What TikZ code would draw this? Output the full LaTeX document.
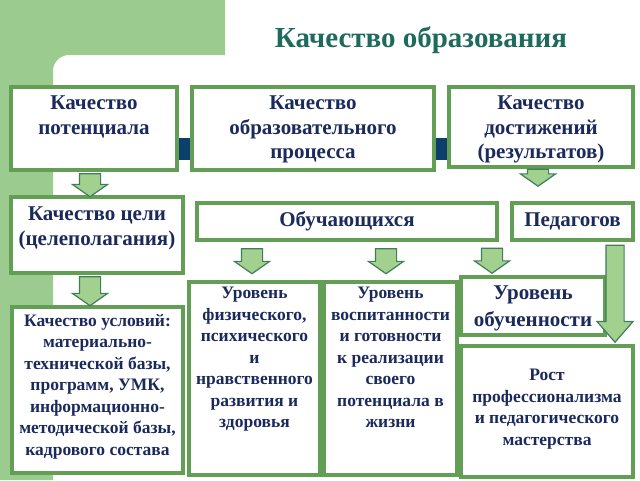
\documentclass[tikz,border=0pt]{standalone}
\usepackage{fontspec}
\setmainfont{Liberation Serif}
\usetikzlibrary{positioning,shapes.arrows,backgrounds}

\definecolor{panelgreen}{HTML}{9CCB90}
\definecolor{framegreen}{HTML}{629E53}
\definecolor{arrowfill}{HTML}{A2D08F}
\definecolor{arrowline}{HTML}{3F7D5B}
\definecolor{titleteal}{HTML}{1E6B5E}
\definecolor{textnavy}{HTML}{1B2A5C}
\definecolor{barnavy}{HTML}{0D3F6B}

\tikzset{
	box/.style={draw=framegreen, line width=4pt, fill=white, anchor=north west, inner sep=0pt},
	lbl/.style={align=center, text=textnavy, inner sep=0pt, font=\bfseries\fontsize{21}{24.5}\selectfont},
	small/.style={lbl, font=\bfseries\fontsize{17.5}{21.5}\selectfont},
	darrow/.style={single arrow, shape border rotate=270, draw=arrowline, fill=arrowfill,
		line width=1.2pt, inner xsep=10pt, inner ysep=0pt, minimum width=34pt,
		single arrow head extend=7pt, single arrow tip angle=110}
}

\begin{document}
\begin{tikzpicture}[x=1pt, y=-1pt]
	\useasboundingbox (0,0) rectangle (640,480);
	
	\node[titleteal, font=\bfseries\fontsize{29}{32}\selectfont] (title) at (421,40) {Качество образования};
	
	% top row
	\node[box, minimum width=166pt, minimum height=83pt] (pot) at (9,85) {};
	\node[box, minimum width=242pt, minimum height=83pt] (proc) at (190,85) {};
	\node[box, minimum width=184pt, minimum height=80pt] (res) at (447,85) {};
	\node[lbl, below=11pt of pot.north] (potT) {Качество\\потенциала};
	\node[lbl, below=11pt of proc.north] (procT) {Качество\\образовательного\\процесса};
	\node[lbl, below=11pt of res.north] (resT) {Качество\\достижений\\(результатов)};
	
	% second row
	\node[box, minimum width=172pt, minimum height=76pt] (goal) at (9,195) {};
	\node[lbl, below=12pt of goal.north] (goalT) {Качество цели\\(целеполагания)};
	\node[box, lbl, minimum width=300pt, minimum height=37pt] (stud) at (195,201) {Обучающихся};
	\node[box, lbl, minimum width=121pt, minimum height=37pt] (teach) at (510,201) {Педагогов};
	
	% lower boxes
	\node[box, minimum width=171pt, minimum height=166pt] (cond) at (10,305) {};
	\node[small, below=9pt of cond.north] (condT) {Качество условий:\\материально-\\технической базы,\\программ, УМК,\\информационно-\\методической базы,\\кадрового состава};
	\node[box, minimum width=131pt, minimum height=193pt] (phys) at (187,280) {};
	\node[small, below=7pt of phys.north] (physT) {Уровень\\физического,\\психического\\и\\нравственного\\развития и\\здоровья};
	\node[box, minimum width=133pt, minimum height=193pt] (upbr) at (322,280) {};
	\node[small, below=7pt of upbr.north] (upbrT) {Уровень\\воспитанности\\и готовности\\к реализации\\своего\\потенциала в\\жизни};
	\node[box, minimum width=144pt, minimum height=58pt] (learn) at (459,275) {};
	\node[lbl, font=\bfseries\fontsize{21}{27}\selectfont, below=11pt of learn.north] (learnT) {Уровень\\обученности};
	\node[box, minimum width=172pt, minimum height=131pt] (prof) at (459,344) {};
	\node[small, below=25pt of prof.north] (profT) {Рост\\профессионализма\\и педагогического\\мастерства};
	
	% arrows
	\node[darrow, minimum height=23pt] (potA) at (90,181.5) {};
	\node[darrow, minimum height=17pt] (resA) at (538,174) {};
	\node[darrow, minimum height=29pt] (goalA) at (90,287.5) {};
	\node[darrow, minimum height=25pt] (physA) at (252,257.5) {};
	\node[darrow, minimum height=25pt] (upbrA) at (386,257.5) {};
	\node[darrow, minimum height=25pt] (learnA) at (492,257) {};
	\node[darrow, minimum height=97pt, inner xsep=8.5pt, minimum width=35pt,
		single arrow head extend=9pt, single arrow tip angle=82] (teachA) at (615,288.5) {};
	
	\begin{scope}[on background layer]
		\fill[panelgreen] (0,0) -- (225,0) -- (225,55) [rounded corners=16pt] -- (53,55) [sharp corners] -- (53,480) -- (0,480) -- cycle;
		\fill[barnavy] (pot.east |- 0,138) rectangle (res.west |- 0,160);
	\end{scope}
\end{tikzpicture}
\end{document}
